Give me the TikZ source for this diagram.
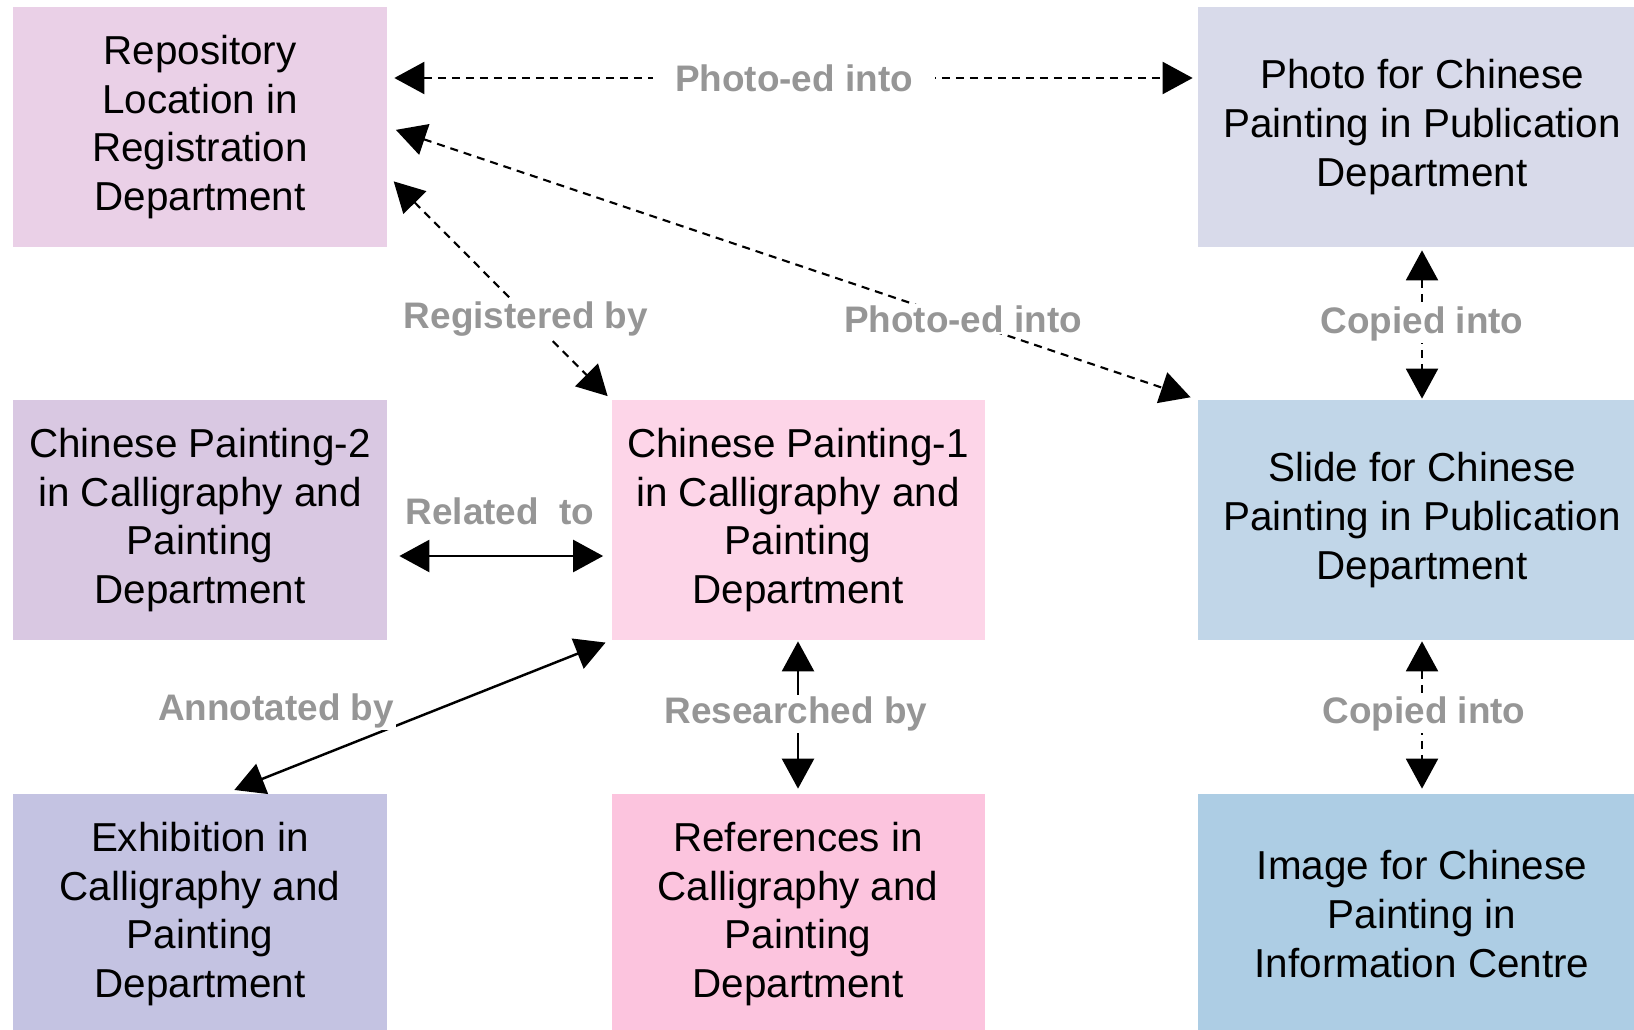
\documentclass[tikz,border=0pt]{standalone}
\usepackage{fontspec}
\setmainfont{Liberation Sans}
\usetikzlibrary{arrows.meta}
\definecolor{repocol}{HTML}{EAD0E7}
\definecolor{photocol}{HTML}{D8DAEA}
\definecolor{cptwocol}{HTML}{D9C8E2}
\definecolor{cponecol}{HTML}{FDD5E8}
\definecolor{slidecol}{HTML}{C1D6E8}
\definecolor{exhibcol}{HTML}{C4C3E2}
\definecolor{refscol}{HTML}{FCC4DE}
\definecolor{imagecol}{HTML}{ADCDE4}
\definecolor{labelgray}{HTML}{969696}
\tikzset{
  box/.style={inner sep=0pt,minimum height=4.8cm,align=center,
    font=\fontsize{23}{27.8}\selectfont},
  linktext/.style={text=labelgray,font=\bfseries\fontsize{21}{24}\selectfont,
    fill=white,inner sep=1pt},
  solidlink/.style={line width=1.4pt,{Triangle[length=0.6cm,width=0.64cm]}-{Triangle[length=0.6cm,width=0.64cm]}},
  dashlink/.style={solidlink,line width=1.2pt,dash pattern=on 0.16cm off 0.12cm}
}
\begin{document}
\begin{tikzpicture}
  \useasboundingbox (0,0) rectangle (32.68,-20.58);
  % boxes
  \node (repo) at (4.00,-2.54) [box,fill=repocol,minimum width=7.48cm] {Repository\\Location in\\Registration\\Department};
  \node (photo) at (28.44,-2.54) [box,fill=photocol,minimum width=8.96cm] {Photo for Chinese\\Painting in Publication\\Department};
  \node (cp2) at (4.00,-10.40) [box,fill=cptwocol,minimum width=7.48cm] {Chinese Painting-2\\in Calligraphy and\\Painting\\Department};
  \node (cp1) at (15.96,-10.40) [box,fill=cponecol,minimum width=7.46cm] {Chinese Painting-1\\in Calligraphy and\\Painting\\Department};
  \node (slide) at (28.44,-10.40) [box,fill=slidecol,minimum width=8.96cm] {Slide for Chinese\\Painting in Publication\\Department};
  \node (exhib) at (4.00,-18.28) [box,fill=exhibcol,minimum width=7.48cm] {Exhibition in\\Calligraphy and\\Painting\\Department};
  \node (refs) at (15.96,-18.28) [box,fill=refscol,minimum width=7.46cm] {References in\\Calligraphy and\\Painting\\Department};
  \node (image) at (28.44,-18.28) [box,fill=imagecol,minimum width=8.96cm] {Image for Chinese\\Painting in\\Information Centre};
  % links
  \draw[dashlink,shorten <=0.14cm,shorten >=0.1cm] ([yshift=0.98cm]repo.east) to ([yshift=0.98cm]photo.west);
  \draw[dashlink,shorten <=0.18cm,shorten >=0.15cm] (repo.east) to (slide.north west);
  \draw[dashlink,shorten <=0.18cm,shorten >=0.1cm] ([yshift=-0.96cm]repo.east) to (cp1.north west);
  \draw[dashlink,shorten <=0.06cm,shorten >=0.02cm] (photo.south) to (slide.north);
  \draw[solidlink,shorten <=0.24cm,shorten >=0.16cm] ([yshift=-0.72cm]cp2.east) to ([yshift=-0.72cm]cp1.west);
  \draw[solidlink,shorten <=0.12cm,shorten >=0.2cm] (cp1.south west) to ([xshift=0.5cm]exhib.north);
  \draw[solidlink,shorten <=0.02cm,shorten >=0.1cm] (cp1.south) to (refs.north);
  \draw[dashlink,shorten <=0.02cm,shorten >=0.1cm] (slide.south) to (image.north);
  % link labels
  \node (photoedtop) at (15.88,-1.56) [linktext,inner xsep=0.45cm] {Photo-ed into};
  \node (photoeddiag) at (19.26,-6.38) [linktext] {Photo-ed into};
  \node (registered) at (10.52,-6.38) [linktext] {Registered by};
  \node (copiedtop) at (28.44,-6.48) [linktext] {Copied into};
  \node (related) at (10.00,-10.22) [linktext] {Related\ \ to};
  \node (annotated) at (5.52,-14.22) [linktext] {Annotated by};
  \node (researched) at (15.92,-14.28) [linktext] {Researched by};
  \node (copiedbot) at (28.48,-14.28) [linktext] {Copied into};
\end{tikzpicture}
\end{document}
